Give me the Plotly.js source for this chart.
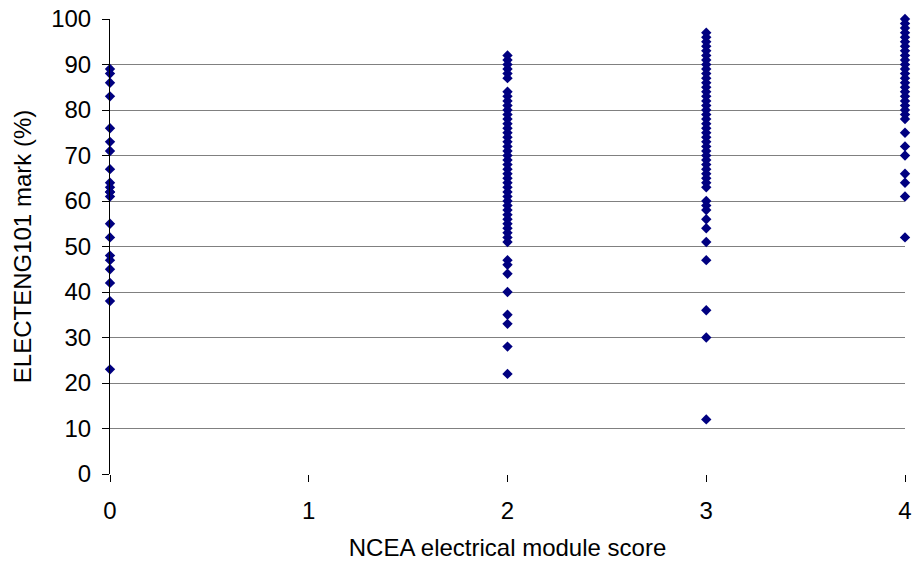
<!DOCTYPE html>
<html>
<head>
<meta charset="utf-8">
<script src="https://cdn.plot.ly/plotly-3.0.1.min.js"></script>
<style>html,body{margin:0;padding:0;background:#fff;}#chart{width:914px;height:563px;}</style>
</head>
<body>
<div id="chart"></div>
<script>
// NCEA electrical module score categories
const moduleScores = [0, 2, 3, 4];
const xTickLabels = ['0', '1', '2', '3', '4'];

// ELECTENG101 marks (%) for each score
const marksScore0 = [89, 88, 86, 83, 76, 73, 71, 67, 64, 63, 62, 62, 61, 55, 52, 48, 47, 45, 42, 38, 23];
const marksScore2 = [92, 91, 90, 89, 88, 87, 84, 83, 82, 81, 80, 79, 78, 77, 76, 75, 74, 73, 72, 71, 70, 69, 68, 67, 66, 65, 64, 63, 62, 61, 60, 59, 58, 57, 56, 55, 54, 53, 52, 51, 47, 46, 44, 40, 35, 33, 28, 22];
const marksScore3 = [97, 96, 95, 94, 93, 92, 91, 90, 89, 88, 87, 86, 85, 84, 83, 82, 81, 80, 79, 78, 77, 76, 75, 74, 73, 72, 71, 70, 69, 68, 67, 66, 65, 64, 63, 60, 59, 58, 56, 54, 51, 47, 36, 30, 12];
const marksScore4 = [100, 99, 98, 97, 96, 95, 94, 93, 92, 91, 90, 89, 88, 87, 86, 85, 84, 83, 82, 81, 80, 79, 78, 75, 72, 70, 66, 64, 61, 52];

const markGroups = [marksScore0, marksScore2, marksScore3, marksScore4];
const xs = [], ys = [];
markGroups.forEach((g, i) => g.forEach(v => { xs.push(moduleScores[i]); ys.push(v); }));

const font = 'Liberation Sans, Arial, sans-serif';
const fs = 24;
const trace = {
  x: xs, y: ys, type: 'scatter', mode: 'markers', cliponaxis: false,
  marker: {symbol: 'diamond', size: 8, color: '#000080', line: {width: 0}},
  hoverinfo: 'x+y'
};
const layout = {
  width: 914, height: 563,
  margin: {l: 110, r: 9, t: 19, b: 89},
  paper_bgcolor: '#ffffff', plot_bgcolor: '#ffffff',
  showlegend: false,
  font: {family: font, size: fs, color: '#000'},
  xaxis: {
    range: [0, 4], tickvals: [0, 1, 2, 3, 4], ticktext: xTickLabels,
    showgrid: false, zeroline: false, showline: false,
    ticks: 'outside', ticklen: 7, tickcolor: '#000', tickwidth: 1,
    ticklabelstandoff: 8,
    tickfont: {family: font, size: fs, color: '#000'},
    automargin: false,
    title: {text: 'NCEA electrical module score', font: {family: font, size: fs, color: '#000'}}
  },
  yaxis: {
    range: [0, 100], tickvals: [0,10,20,30,40,50,60,70,80,90,100],
    showgrid: true, gridcolor: '#808080', gridwidth: 1,
    zeroline: false, showline: true, linecolor: '#000', linewidth: 1,
    ticks: 'outside', ticklen: 7, tickcolor: '#000',
    ticklabelstandoff: 6,
    tickfont: {family: font, size: fs, color: '#000'},
    automargin: 'left',
    title: {text: 'ELECTENG101 mark (%)', font: {family: font, size: fs, color: '#000'}, standoff: 12}
  }
};
Plotly.newPlot('chart', [trace], layout, {displayModeBar: false, staticPlot: true});
</script>
</body>
</html>
